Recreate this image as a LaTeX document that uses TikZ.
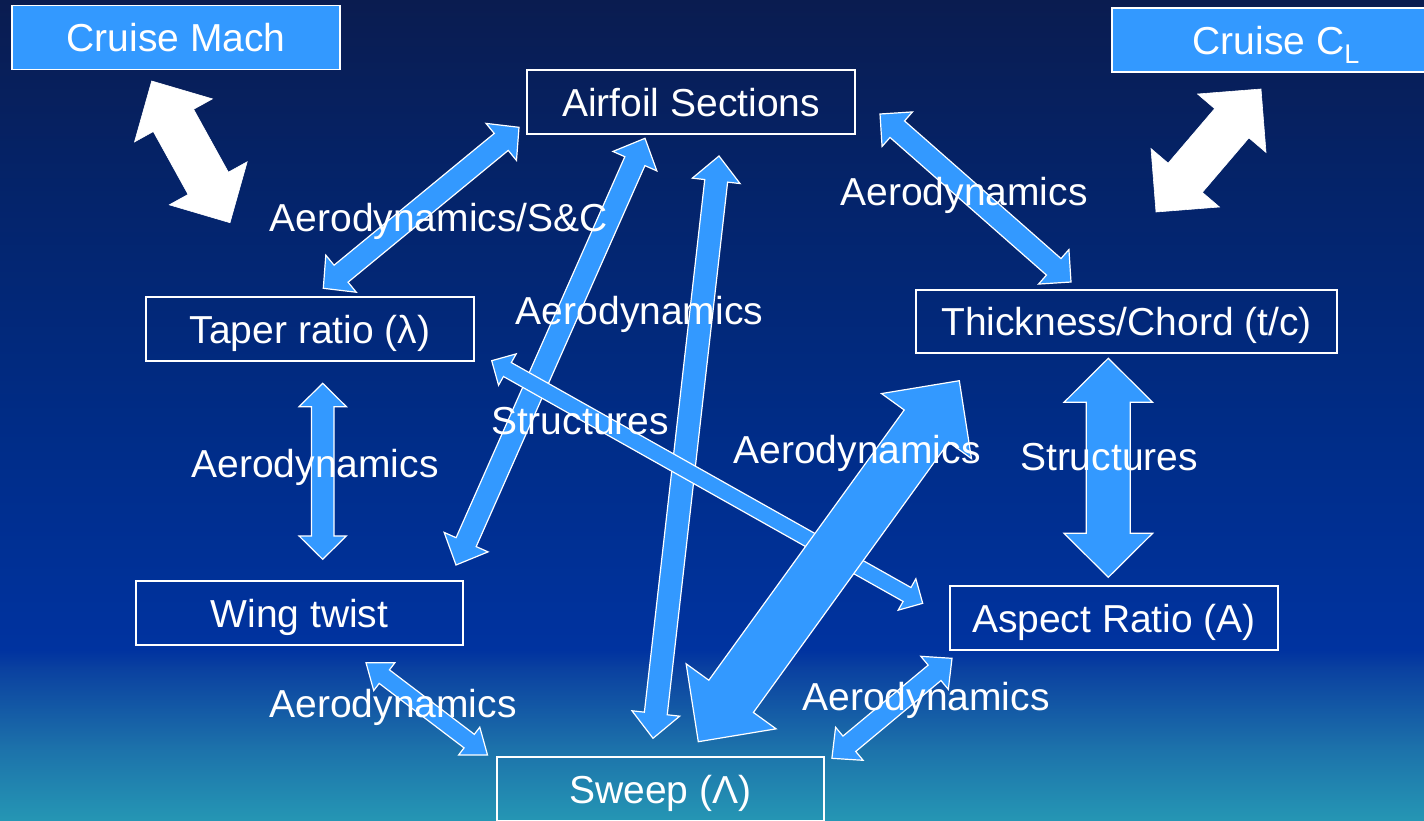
\documentclass[tikz,border=0pt]{standalone}
\usepackage{fontspec}
\setmainfont{Liberation Sans}
\usetikzlibrary{calc}
\definecolor{bgA}{HTML}{0A1C50}
\definecolor{bgB}{HTML}{052265}
\definecolor{bgC}{HTML}{002C86}
\definecolor{bgD}{HTML}{0033A0}
\definecolor{bgE}{HTML}{0A40A0}
\definecolor{bgF}{HTML}{1C70AA}
\definecolor{bgG}{HTML}{2596B4}
\definecolor{arrowblue}{HTML}{3399FF}
% #1 style, #2 start, #3 end, #4 half shaft, #5 half head, #6 head length
\newcommand\blockarrow[6][]{%
  \path[#1] (#2)
   -- ($(#2)!#6!(#3)!#5!90:(#3)$) -- ($(#2)!#6!(#3)!#4!90:(#3)$)
   -- ($(#3)!#6!(#2)!#4!-90:(#2)$) -- ($(#3)!#6!(#2)!#5!-90:(#2)$)
   -- (#3)
   -- ($(#3)!#6!(#2)!#5!90:(#2)$) -- ($(#3)!#6!(#2)!#4!90:(#2)$)
   -- ($(#2)!#6!(#3)!#4!-90:(#3)$) -- ($(#2)!#6!(#3)!#5!-90:(#3)$)
   -- cycle;}
\tikzset{
  txt/.style={text=white, font=\fontsize{39}{41}\selectfont, text height=28pt, text depth=0pt, inner sep=0pt},
  box/.style={txt, draw=white, line width=1.5pt, minimum height=64pt},
  filledbox/.style={box, fill=arrowblue},
  lbl/.style={txt},
  barrow/.style={fill=arrowblue, draw=white, line width=1.2pt, line join=miter},
  warrow/.style={fill=white, draw=white, line width=0.6pt, line join=miter},
}
\begin{document}
\begin{tikzpicture}[x=1pt,y=-1pt]
\useasboundingbox (0,0) rectangle (1424,820);
\clip (0,0) rectangle (1424,820);
% background
\shade[top color=bgA, bottom color=bgB] (0,0) rectangle (1424,151);
\shade[top color=bgB, bottom color=bgC] (0,150) rectangle (1424,421);
\shade[top color=bgC, bottom color=bgD] (0,420) rectangle (1424,651);
\shade[top color=bgD, bottom color=bgE] (0,650) rectangle (1424,668);
\shade[top color=bgE, bottom color=bgF] (0,667) rectangle (1424,746);
\shade[top color=bgF, bottom color=bgG] (0,745) rectangle (1424,820);

% nodes
\node[filledbox, minimum width=328pt] (mach) at (176,37.5) {Cruise Mach};
\node[filledbox, minimum width=328pt] (cl) at (1276,40) {Cruise C\raisebox{-9pt}{\fontsize{27}{27}\selectfont L}};
\node[box, minimum width=328pt] (airfoil) at (691,102) {Airfoil Sections};
\node[box, minimum width=328pt] (taper) at (310,329) {Taper ratio (λ)};
\node[box, minimum width=421pt, minimum height=63pt] (thick) at (1126.5,321.5) {Thickness/Chord (t/c)};
\node[box, minimum width=327pt] (twist) at (299.5,613) {Wing twist};
\node[box, minimum width=328pt] (aspect) at (1114,618) {Aspect Ratio (A)};
\node[box, minimum width=327pt] (sweep) at (660.5,789) {Sweep (Λ)};

% arrow end points
\coordinate (m1) at (151.7,81);   \coordinate (m2) at (230,222.7);
\coordinate (c1) at (1261,89);    \coordinate (c2) at (1156,212);
\coordinate (at1) at (519,127.3); \coordinate (at2) at (323.3,288.3);
\coordinate (aw1) at (645,138.3); \coordinate (aw2) at (456,565);
\coordinate (as1) at (719,156);   \coordinate (as2) at (653,738.3);
\coordinate (ak1) at (880,114);   \coordinate (ak2) at (1071,282);
\coordinate (tw1) at (322.7,383.3); \coordinate (tw2) at (322.7,559.3);
\coordinate (ka1) at (1108.3,358.3); \coordinate (ka2) at (1108.3,577.3);
\coordinate (ta1) at (491.7,360.7); \coordinate (ta2) at (922.7,603.3);
\coordinate (ks1) at (959.3,380.7); \coordinate (ks2) at (698.3,741.7);
\coordinate (ws1) at (366,662.7); \coordinate (ws2) at (487.5,755);
\coordinate (sa1) at (952,658.3); \coordinate (sa2) at (831.9,758.3);

% arrows
\blockarrow[warrow]{m1}{m2}{23pt}{44.5pt}{45pt}
\blockarrow[warrow]{c1}{c2}{22.5pt}{45pt}{45pt}
\blockarrow[barrow]{at1}{at2}{11pt}{24pt}{23pt}
\blockarrow[barrow]{ak1}{ak2}{11pt}{23pt}{23pt}
\blockarrow[barrow]{tw1}{tw2}{11.3pt}{23.7pt}{23.4pt}
\blockarrow[barrow]{ka1}{ka2}{22pt}{44.3pt}{44pt}
\blockarrow[barrow]{ws1}{ws2}{8.5pt}{17.5pt}{23pt}
\blockarrow[barrow]{sa1}{sa2}{10pt}{21.5pt}{22.7pt}
\blockarrow[barrow]{aw1}{aw2}{11pt}{24pt}{25pt}
\blockarrow[barrow]{as1}{as2}{11.5pt}{24pt}{25pt}
\blockarrow[barrow]{ta1}{ta2}{8pt}{18pt}{18pt}
\blockarrow[barrow]{ks1}{ks2}{27.5pt}{55.5pt}{56pt}

% labels
\node[lbl] (l1) at (438.7,217) {Aerodynamics/S\&C};
\node[lbl] (l2) at (964,191) {Aerodynamics};
\node[lbl] (l3) at (639.5,310) {Aerodynamics};
\node[lbl] (l4) at (580,420) {Structures};
\node[lbl] (l5) at (315,463) {Aerodynamics};
\node[lbl] (l6) at (857,449) {Aerodynamics};
\node[lbl] (l7) at (1109,456) {Structures};
\node[lbl] (l8) at (393,703) {Aerodynamics};
\node[lbl] (l9) at (926,696) {Aerodynamics};
\end{tikzpicture}
\end{document}
